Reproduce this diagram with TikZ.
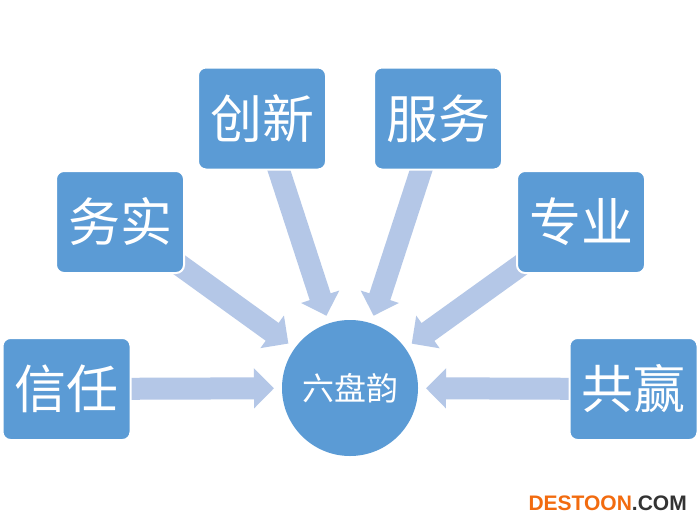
\documentclass[tikz,border=0pt]{standalone}
\usepackage{fontspec}
\newfontfamily\cjk{Noto Sans CJK SC}
\newfontfamily\wmfont{Liberation Sans}
\usetikzlibrary{arrows.meta,calc}
\definecolor{boxblue}{HTML}{5B9BD5}
\definecolor{arrowblue}{HTML}{B4C7E7}
\definecolor{wmorange}{HTML}{F26B0F}
\definecolor{wmdark}{HTML}{333333}
\tikzset{
  valuebox/.style={rectangle, rounded corners=8pt, fill=boxblue, draw=white, line width=2pt,
    minimum width=128pt, minimum height=102pt, inner sep=0pt, text=white,
    font=\cjk\fontsize{52}{54}\selectfont},
  hub/.style={circle, fill=boxblue, minimum size=136pt, inner sep=0pt, text=white,
    font=\cjk\fontsize{32}{34}\selectfont},
  blockarrow/.style={draw=arrowblue, line width=22pt,
    -{Triangle[width=39pt 0 0,length=20pt 0 0,fill=arrowblue]}, shorten >=0pt}
}
\begin{document}
\begin{tikzpicture}[x=1pt,y=-1pt]
\useasboundingbox (0,0) rectangle (700,525);
\fill[white] (0,0) rectangle (700,525);
\coordinate (c) at (350,388);
\coordinate (pxin) at (66.5,389);
\coordinate (pwu) at (120,222);
\coordinate (pchuang) at (262,118.5);
\coordinate (pfu) at (438,118.5);
\coordinate (pzhuan) at (581,222);
\coordinate (pgong) at (633.5,389);
% arrows (behind boxes)
\foreach \p/\e in {pxin/exin,pwu/ewu,pchuang/echuang,pfu/efu,pzhuan/ezhuan,pgong/egong}{
  \coordinate (\e) at ($(c)!76pt!(\p)$);
  \draw[blockarrow] (\p) -- (\e);
}
\node[hub] (hub) at (c) {六盘韵};
\node[valuebox] (xin) at (pxin) {信任};
\node[valuebox] (wu) at (pwu) {务实};
\node[valuebox] (chuang) at (pchuang) {创新};
\node[valuebox] (fu) at (pfu) {服务};
\node[valuebox] (zhuan) at (pzhuan) {专业};
\node[valuebox] (gong) at (pgong) {共赢};
\node[anchor=base east, inner sep=0pt, font=\wmfont\bfseries\fontsize{21}{22}\selectfont] (wm) at (687,510)
  {\textcolor{wmorange}{DESTOON}\textcolor{wmdark}{.COM}};
\end{tikzpicture}
\end{document}
